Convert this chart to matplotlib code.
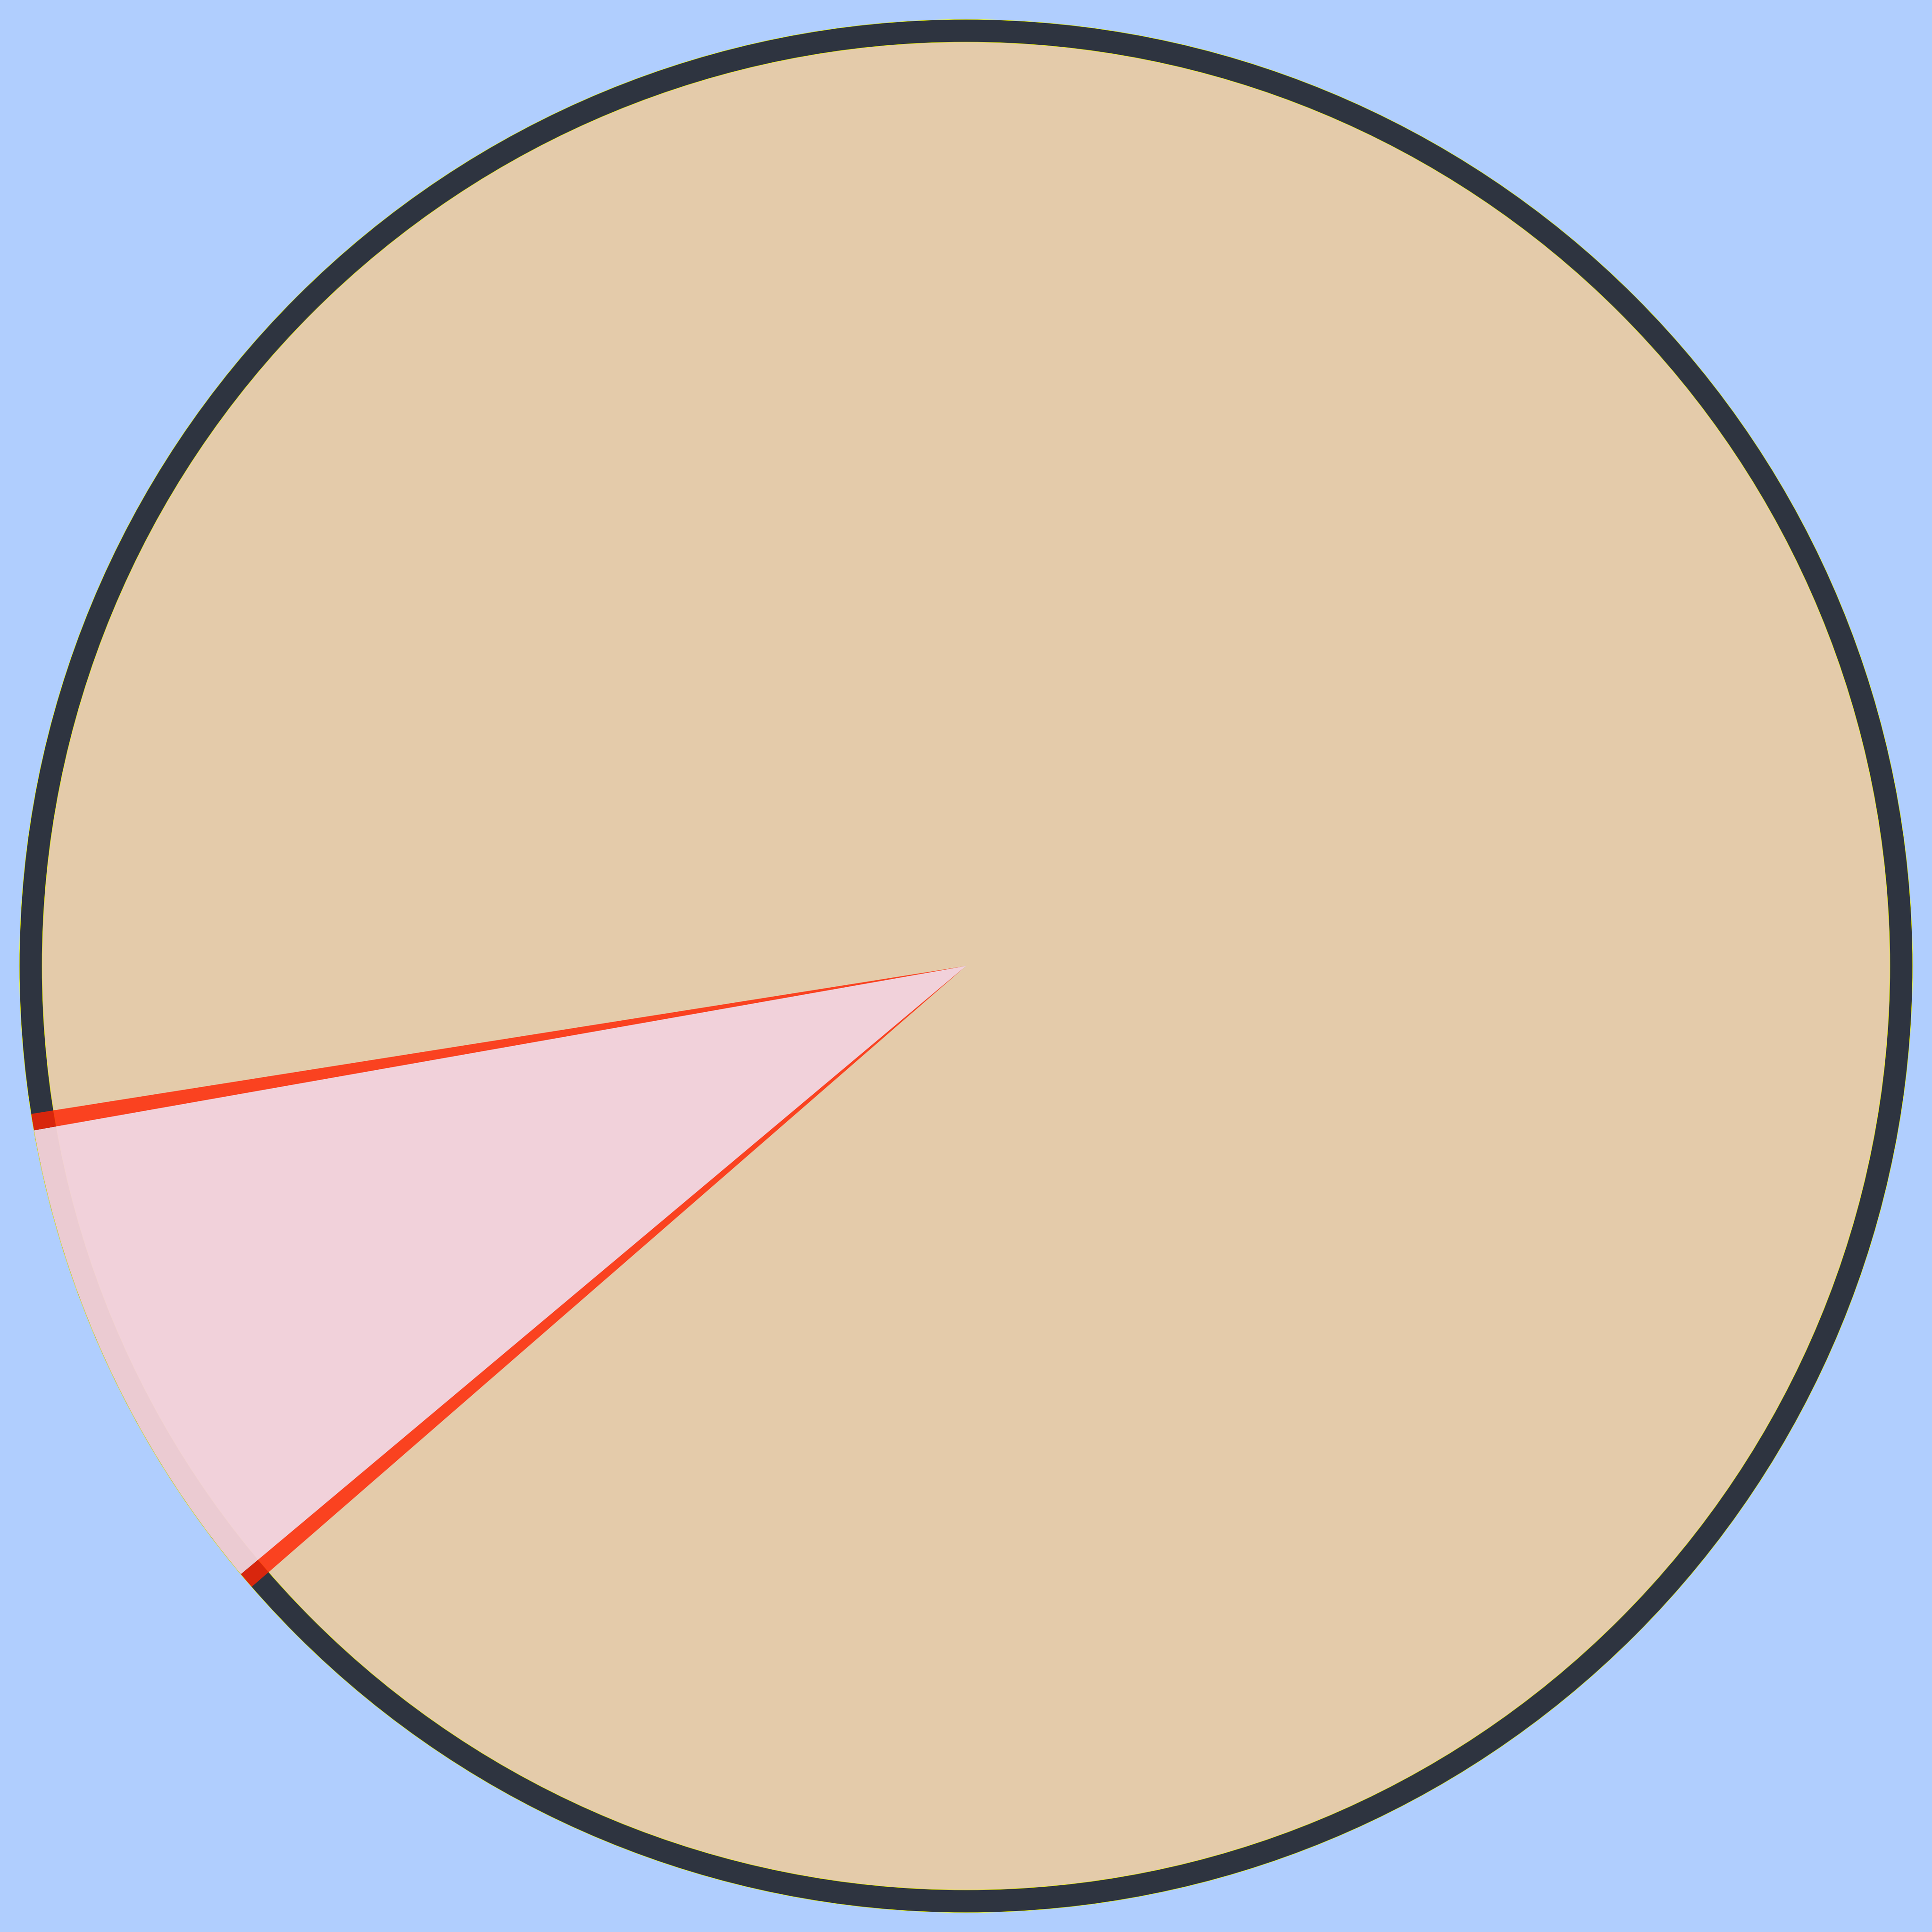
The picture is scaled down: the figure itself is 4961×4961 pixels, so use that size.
import matplotlib
matplotlib.use("Agg")
import matplotlib.pyplot as plt
from matplotlib.patches import Wedge, Circle

# Data
categories = ["Highlighted", "Other"]
values = [8.33, 91.67]          # percent of the whole
border_pct = 0.28               # width of the red highlight bands, percent
start_angle = 190

# Colours
bg_color = "#B0CEFE"
slice_colors = ["#F4D2D9", "#E4CBAA"]
ring_color = "#2E3440"
glow_color = "#E6F000"
border_color = "#FF2402"

# Geometry (ring midline radius = 1)
dpi = 100
size_px = 4961
px = 1 / 2401.5                 # one pixel in data units
ring_px = 57
r_out = 1 + ring_px / 2 * px
lim = size_px / 2 * px

fig = plt.figure(figsize=(size_px / dpi, size_px / dpi), dpi=dpi)
fig.patch.set_facecolor(bg_color)
ax = fig.add_axes([0, 0, 1, 1])
ax.set_facecolor(bg_color)

# Pie slices
wedges, _ = ax.pie(
    values,
    colors=slice_colors,
    startangle=start_angle,
    radius=r_out,
    wedgeprops=dict(linewidth=0),
)
wedges[0].set_alpha(0.96)
wedges[0].set_zorder(4)
wedges[1].set_zorder(1)

# Outer ring
pt = 72 / dpi
ax.add_patch(Circle((0, 0), 1, fill=False, ec=glow_color,
                    lw=(ring_px + 2) * pt, zorder=2))
ax.add_patch(Circle((0, 0), 1, fill=False, ec=ring_color,
                    lw=ring_px * pt, zorder=3))

# Red bands on both sides of the highlighted slice
border_deg = border_pct * 3.6
hl = wedges[0]
ax.add_patch(Wedge((0, 0), r_out, hl.theta1 - border_deg, hl.theta1,
                   fc=border_color, alpha=0.82, lw=0, zorder=5))
ax.add_patch(Wedge((0, 0), r_out, hl.theta2, hl.theta2 + border_deg,
                   fc=border_color, alpha=0.82, lw=0, zorder=5))

ax.set_xlim(-lim, lim)
ax.set_ylim(-lim, lim)
ax.set_aspect("equal")
ax.axis("off")

fig.savefig("out.png", dpi=dpi, facecolor=bg_color)
plt.close(fig)
